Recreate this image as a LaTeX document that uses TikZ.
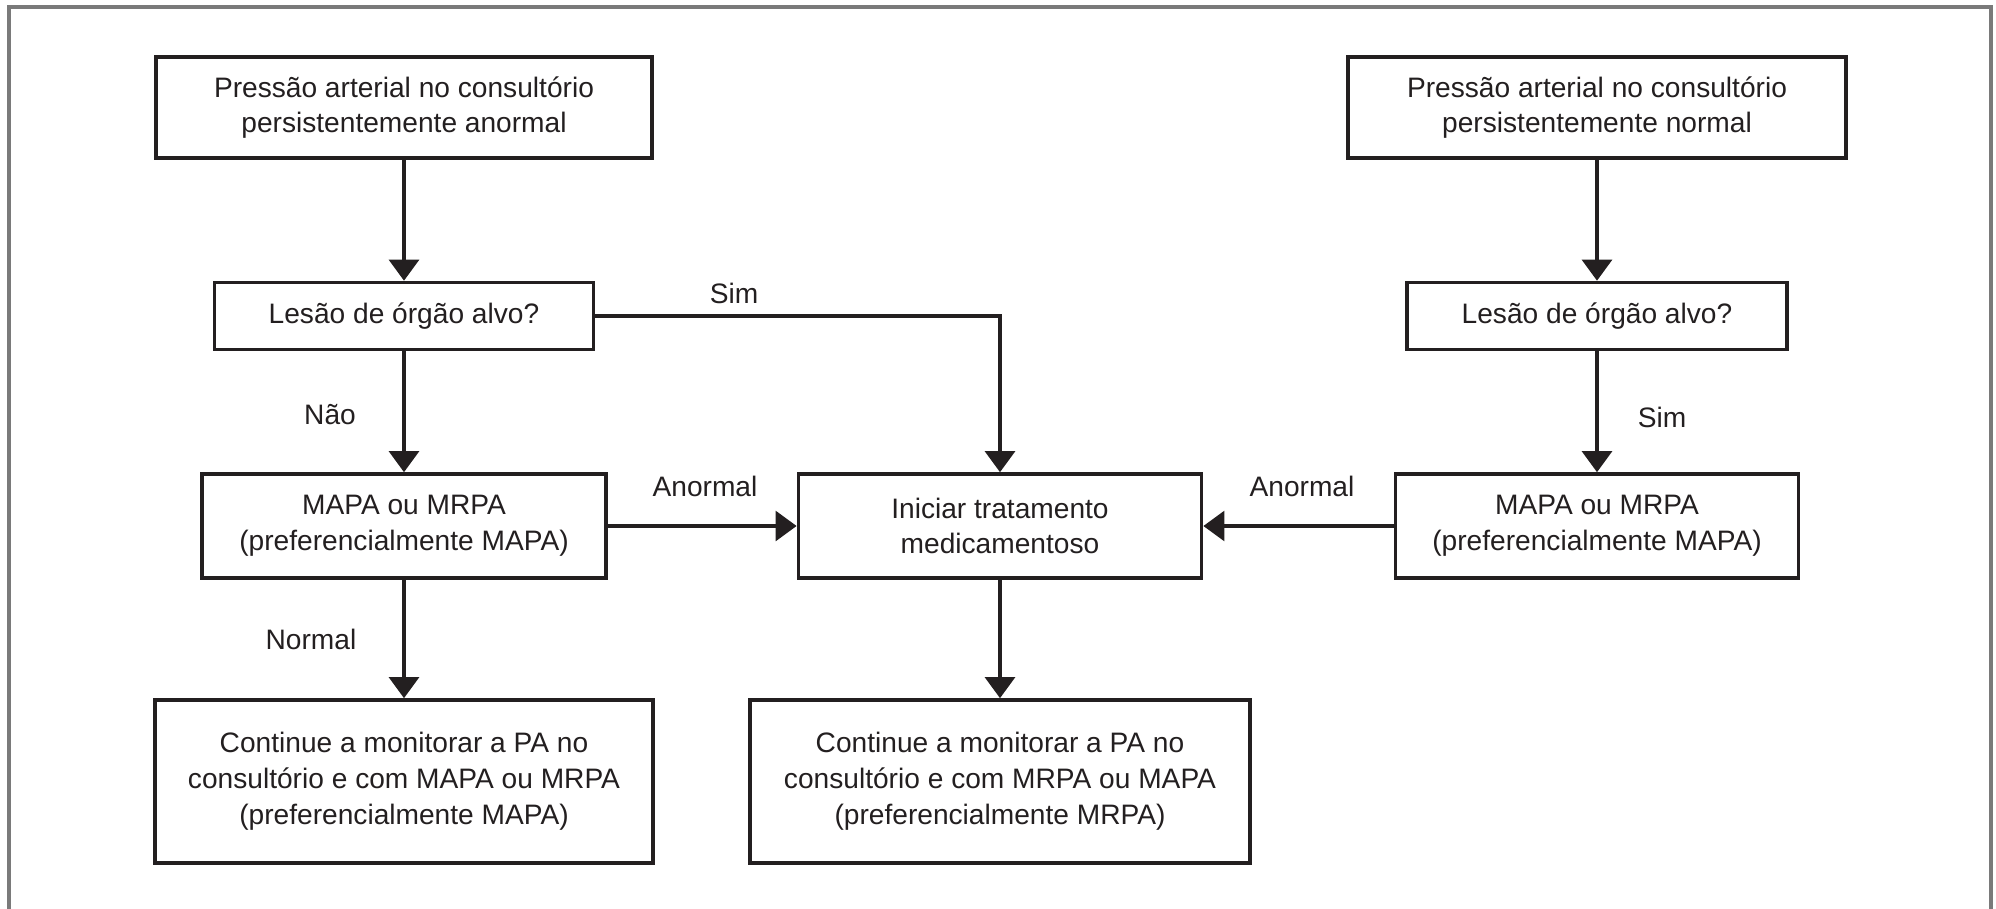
\documentclass[tikz,border=0pt]{standalone}
\usepackage{fontspec}
\setmainfont{Liberation Sans}
\usetikzlibrary{arrows.meta}
\definecolor{ink}{HTML}{231F20}
\definecolor{framegray}{HTML}{7A7A7A}
\tikzset{
  stepbox/.style={draw=ink, line width=1pt, fill=white, align=center,
    inner sep=0pt, text=ink, font=\fontsize{8}{10.2}\selectfont},
  flow/.style={draw=ink, line width=1pt,
    -{Triangle[length=6pt,width=8.5pt]}},
  tag/.style={text=ink, inner sep=0pt, font=\fontsize{8}{10.2}\selectfont}
}
\begin{document}
\begin{tikzpicture}[x=0.01cm, y=-0.01cm]
  \useasboundingbox (0,0) rectangle (1996,909);
  % open outer frame
  \draw[framegray, line width=0.9pt] (9,909) -- (9,7) -- (1991,7) -- (1991,909);

  % left column
  \node[stepbox, minimum width=4.96cm, minimum height=1.01cm] (pan) at (404,107.5)
    {Pressão arterial no consultório\\persistentemente anormal};
  \node[stepbox, minimum width=3.79cm, minimum height=0.67cm] (lesl) at (404,316)
    {Lesão de órgão alvo?};
  \node[stepbox, minimum width=4.04cm, minimum height=1.04cm] (mapal) at (404,526)
    {MAPA ou MRPA\\(preferencialmente MAPA)};
  \node[stepbox, minimum width=4.98cm, minimum height=1.63cm] (contl) at (404,781.5)
    {Continue a monitorar a PA no\\consultório e com MAPA ou MRPA\\(preferencialmente MAPA)};

  % middle column
  \node[stepbox, minimum width=4.03cm, minimum height=1.04cm] (trat) at (1000,526)
    {Iniciar tratamento\\medicamentoso};
  \node[stepbox, minimum width=5.00cm, minimum height=1.63cm] (contm) at (1000,781.5)
    {Continue a monitorar a PA no\\consultório e com MRPA ou MAPA\\(preferencialmente MRPA)};

  % right column
  \node[stepbox, minimum width=4.98cm, minimum height=1.01cm] (pnor) at (1597,107.5)
    {Pressão arterial no consultório\\persistentemente normal};
  \node[stepbox, minimum width=3.80cm, minimum height=0.67cm] (lesr) at (1597,316)
    {Lesão de órgão alvo?};
  \node[stepbox, minimum width=4.03cm, minimum height=1.04cm] (mapar) at (1597,526)
    {MAPA ou MRPA\\(preferencialmente MAPA)};

  % connectors
  \draw[flow] (pan) -- (lesl);
  \draw[flow] (lesl) -- (mapal);
  \draw[flow] (lesl.east) -| (trat.north);
  \draw[flow] (mapal) -- (trat);
  \draw[flow] (mapal) -- (contl);
  \draw[flow] (trat) -- (contm);
  \draw[flow] (pnor) -- (lesr);
  \draw[flow] (lesr) -- (mapar);
  \draw[flow] (mapar) -- (trat);

  % branch labels
  \node[tag] (tsim) at (734,293) {Sim};
  \node[tag] (tnao) at (330,415) {Não};
  \node[tag] (tanl) at (705,486) {Anormal};
  \node[tag] (tanr) at (1302,486) {Anormal};
  \node[tag] (tsimr) at (1662,417) {Sim};
  \node[tag] (tnorm) at (311,639) {Normal};
\end{tikzpicture}
\end{document}
